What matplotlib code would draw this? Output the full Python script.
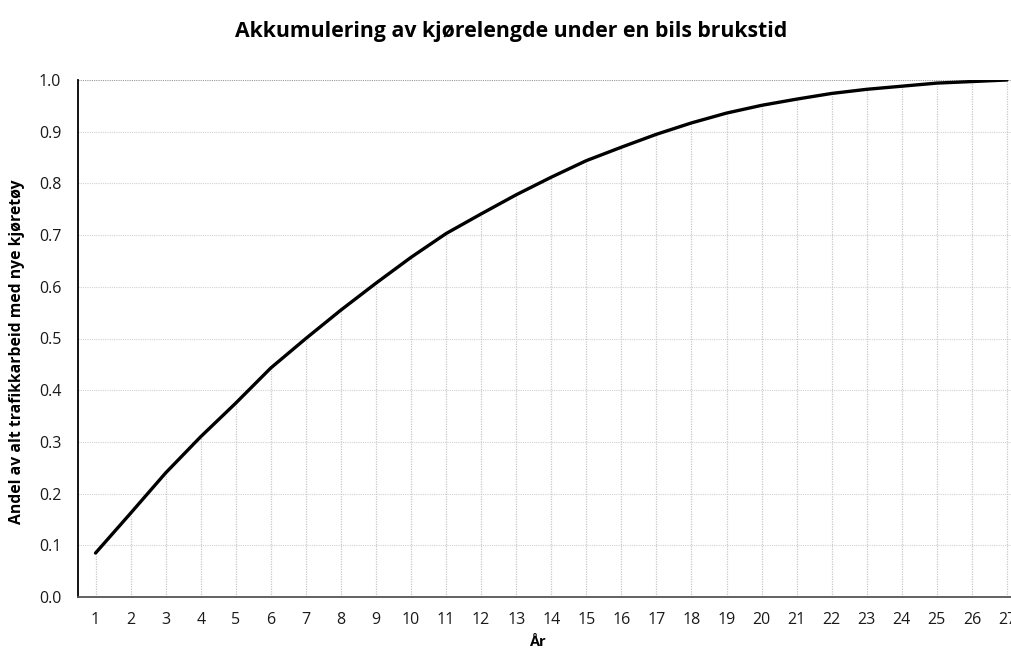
import matplotlib
matplotlib.use("Agg")
import matplotlib.pyplot as plt

years = list(range(1, 28))
share = [0.085, 0.162, 0.240, 0.310, 0.375, 0.443, 0.500, 0.555, 0.607, 0.657,
         0.703, 0.741, 0.778, 0.812, 0.844, 0.870, 0.895, 0.917, 0.936, 0.951,
         0.963, 0.974, 0.982, 0.988, 0.994, 0.997, 1.000]
yticks = [0.0, 0.1, 0.2, 0.3, 0.4, 0.5, 0.6, 0.7, 0.8, 0.9, 1.0]

plt.rcParams['font.family'] = ['Open Sans', 'DejaVu Sans']

fig = plt.figure(figsize=(10.11, 6.5), dpi=100)
ax = fig.add_axes([78/1011, 53/650, 946.5/1011, 517/650])

ax.set_xlim(0.5, 27.5)
ax.set_ylim(0, 1.0)

for yv in yticks[1:]:
    ax.axhline(yv, color='#d2d2d2' if yv < 1 else '#9a9a9a', lw=0.8,
               ls=(0, (1, 1)), zorder=1)
ax.vlines(years, 0, share, colors='#c8c8c8', lw=0.9, linestyles=(0, (1, 1)), zorder=1)
ax.plot(years, share, color='black', lw=2.4, zorder=3, solid_capstyle='round',
        solid_joinstyle='round')

ax.set_xticks(years)
ax.set_xticklabels([str(y) for y in years])
ax.set_yticks(yticks)
ax.set_yticklabels([f"{v:.1f}" for v in yticks])
ax.tick_params(length=0, labelsize=11.5, colors='#1a1a1a')
ax.tick_params(axis='x', pad=11)
ax.tick_params(axis='y', pad=12)

for s in ['top', 'right']:
    ax.spines[s].set_visible(False)
ax.spines['left'].set_color('black')
ax.spines['left'].set_linewidth(1.3)
ax.spines['bottom'].set_color('#555555')
ax.spines['bottom'].set_linewidth(1.3)

fig.text(511/1011, 1 - 32/650, "Akkumulering av kjørelengde under en bils brukstid",
         ha='center', va='center', fontsize=15.3, fontweight='bold')
fig.text(537/1011, 1 - 642/650, "År", ha='center', va='center', fontsize=10.5,
         fontweight='bold')
fig.text(17/1011, 1 - 352/650, "Andel av alt trafikkarbeid med nye kjøretøy",
         ha='center', va='center', rotation=90, fontsize=11.3, fontweight='bold')

fig.savefig("out.png", dpi=100)
